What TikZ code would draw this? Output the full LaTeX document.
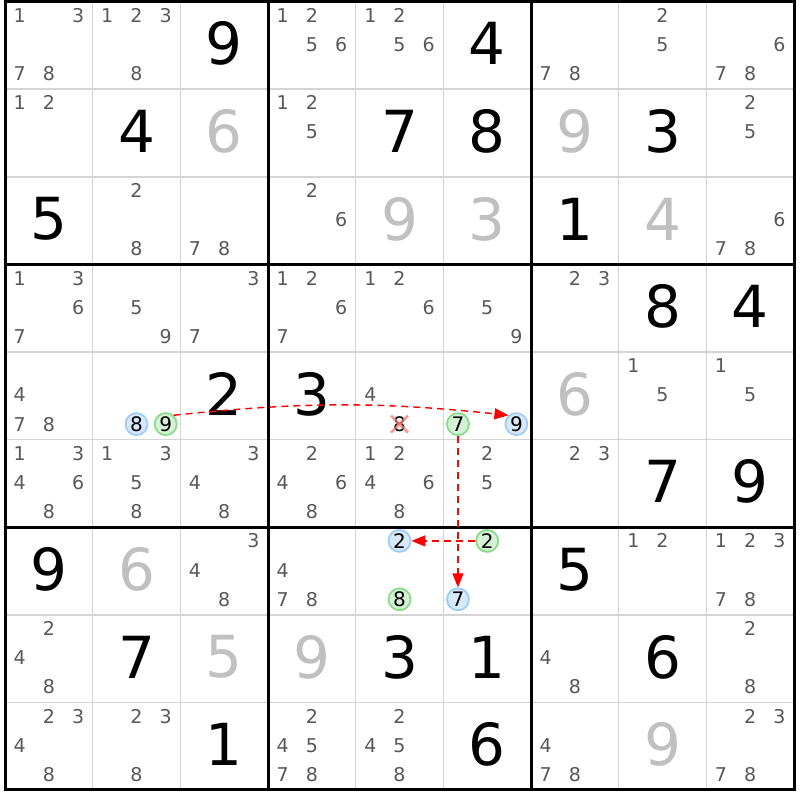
\documentclass[tikz,border=0pt]{standalone}
\usepackage{fontspec}
\setmainfont{DejaVu Sans}
\usetikzlibrary{arrows.meta}
\definecolor{candgray}{RGB}{88,88,88}
\definecolor{givengray}{RGB}{192,192,192}
\definecolor{thingray}{RGB}{212,212,212}
\definecolor{bluefill}{RGB}{214,232,250}
\definecolor{bluedraw}{RGB}{160,204,248}
\definecolor{greenfill}{RGB}{214,242,214}
\definecolor{greendraw}{RGB}{140,218,140}
\definecolor{crosscol}{RGB}{245,120,120}
\newcommand\sdkCW{87.67}
\newcommand\sdkCH{87.6}
\newcommand\sdkXO{5}
\newcommand\sdkYO{1.5}
\newcommand\sdkpos[3]{%
  \pgfmathsetmacro\px{\sdkXO+(#2-1)*\sdkCW+(2*mod(#3-1,3)+1)*\sdkCW/6}%
  \pgfmathsetmacro\py{\sdkYO+(#1-1)*\sdkCH+(2*floor((#3-1)/3)+1)*\sdkCH/6-0.8}}
\newcommand\cands[3]{\foreach \dd in {#3}{\sdkpos{#1}{#2}{\dd}\node[cand] (k#1#2\dd) at (\px,\py) {\dd};}}
\newcommand\ring[4]{\sdkpos{#1}{#2}{#3}\node[#4] (k#1#2#3) at (\px,\py) {#3};}
\newcommand\givenat[4]{\node[#4] (g#1#2) at ({\sdkXO+(#2-0.5)*\sdkCW},{\sdkYO+(#1-0.5)*\sdkCH-1.5}) {#3};}
\tikzset{
  cand/.style={font=\fontsize{19}{19}\selectfont, text=candgray, inner sep=0pt},
  bigblack/.style={font=\fontsize{58}{58}\selectfont, text=black, inner sep=0pt},
  biggray/.style={bigblack, text=givengray},
  ringbase/.style={circle, line width=1.8pt, minimum size=22pt, inner sep=0pt,
    font=\fontsize{20}{20}\selectfont, text=black},
  bluering/.style={ringbase, draw=bluedraw, fill=bluefill},
  greenring/.style={ringbase, draw=greendraw, fill=greenfill},
  crossed/.style={cand, text=black, font=\fontsize{20}{20}\selectfont},
  thinline/.style={thingray, line width=1.6pt},
  thickline/.style={black, line width=3pt},
  link/.style={red, line width=1.4pt, dash pattern=on 7pt off 5pt,
    -{Triangle[length=14pt,width=11pt]}},
  crossmark/.style={crosscol, opacity=0.75, line width=2.6pt}
}
\begin{document}
\begin{tikzpicture}[x=1pt,y=-1pt]
\useasboundingbox[fill=white] (0,0) rectangle (800,800);
% thin grid lines
\foreach \i in {1,2,4,5,7,8}{
  \draw[thinline] ({\sdkXO+\i*\sdkCW},\sdkYO) -- ({\sdkXO+\i*\sdkCW},{\sdkYO+9*\sdkCH});
  \draw[thinline] (\sdkXO,{\sdkYO+\i*\sdkCH}) -- ({\sdkXO+9*\sdkCW},{\sdkYO+\i*\sdkCH});
}
% thick lines
\foreach \i in {0,3,6,9}{
  \draw[thickline] ({\sdkXO+\i*\sdkCW},{\sdkYO-1.5}) -- ({\sdkXO+\i*\sdkCW},{\sdkYO+9*\sdkCH+1.5});
  \draw[thickline] ({\sdkXO-1.5},{\sdkYO+\i*\sdkCH}) -- ({\sdkXO+9*\sdkCW+1.5},{\sdkYO+\i*\sdkCH});
}
% row 1
\cands{1}{1}{1,3,7,8}
\cands{1}{2}{1,2,3,8}
\givenat{1}{3}{9}{bigblack}
\cands{1}{4}{1,2,5,6}
\cands{1}{5}{1,2,5,6}
\givenat{1}{6}{4}{bigblack}
\cands{1}{7}{7,8}
\cands{1}{8}{2,5}
\cands{1}{9}{6,7,8}
% row 2
\cands{2}{1}{1,2}
\givenat{2}{2}{4}{bigblack}
\givenat{2}{3}{6}{biggray}
\cands{2}{4}{1,2,5}
\givenat{2}{5}{7}{bigblack}
\givenat{2}{6}{8}{bigblack}
\givenat{2}{7}{9}{biggray}
\givenat{2}{8}{3}{bigblack}
\cands{2}{9}{2,5}
% row 3
\givenat{3}{1}{5}{bigblack}
\cands{3}{2}{2,8}
\cands{3}{3}{7,8}
\cands{3}{4}{2,6}
\givenat{3}{5}{9}{biggray}
\givenat{3}{6}{3}{biggray}
\givenat{3}{7}{1}{bigblack}
\givenat{3}{8}{4}{biggray}
\cands{3}{9}{6,7,8}
% row 4
\cands{4}{1}{1,3,6,7}
\cands{4}{2}{5,9}
\cands{4}{3}{3,7}
\cands{4}{4}{1,2,6,7}
\cands{4}{5}{1,2,6}
\cands{4}{6}{5,9}
\cands{4}{7}{2,3}
\givenat{4}{8}{8}{bigblack}
\givenat{4}{9}{4}{bigblack}
% row 5
\cands{5}{1}{4,7,8}
\ring{5}{2}{8}{bluering}
\ring{5}{2}{9}{greenring}
\givenat{5}{3}{2}{bigblack}
\givenat{5}{4}{3}{bigblack}
\cands{5}{5}{4}
\sdkpos{5}{5}{8}\node[crossed] (k558) at (\px,\py) {8};
\draw[crossmark] ([shift={(-8.5,-8.5)}]k558.center) -- ([shift={(8.5,8.5)}]k558.center);
\draw[crossmark] ([shift={(-8.5,8.5)}]k558.center) -- ([shift={(8.5,-8.5)}]k558.center);
\ring{5}{6}{7}{greenring}
\ring{5}{6}{9}{bluering}
\givenat{5}{7}{6}{biggray}
\cands{5}{8}{1,5}
\cands{5}{9}{1,5}
% row 6
\cands{6}{1}{1,3,4,6,8}
\cands{6}{2}{1,3,5,8}
\cands{6}{3}{3,4,8}
\cands{6}{4}{2,4,6,8}
\cands{6}{5}{1,2,4,6,8}
\cands{6}{6}{2,5}
\cands{6}{7}{2,3}
\givenat{6}{8}{7}{bigblack}
\givenat{6}{9}{9}{bigblack}
% row 7
\givenat{7}{1}{9}{bigblack}
\givenat{7}{2}{6}{biggray}
\cands{7}{3}{3,4,8}
\cands{7}{4}{4,7,8}
\ring{7}{5}{2}{bluering}
\ring{7}{5}{8}{greenring}
\ring{7}{6}{2}{greenring}
\ring{7}{6}{7}{bluering}
\givenat{7}{7}{5}{bigblack}
\cands{7}{8}{1,2}
\cands{7}{9}{1,2,3,7,8}
% row 8
\cands{8}{1}{2,4,8}
\givenat{8}{2}{7}{bigblack}
\givenat{8}{3}{5}{biggray}
\givenat{8}{4}{9}{biggray}
\givenat{8}{5}{3}{bigblack}
\givenat{8}{6}{1}{bigblack}
\cands{8}{7}{4,8}
\givenat{8}{8}{6}{bigblack}
\cands{8}{9}{2,8}
% row 9
\cands{9}{1}{2,3,4,8}
\cands{9}{2}{2,3,8}
\givenat{9}{3}{1}{bigblack}
\cands{9}{4}{2,4,5,7,8}
\cands{9}{5}{2,4,5,8}
\givenat{9}{6}{6}{bigblack}
\cands{9}{7}{4,7,8}
\givenat{9}{8}{9}{biggray}
\cands{9}{9}{2,3,7,8}
% links
\draw[link] (k529.48) to[bend left=6] (k569.132);
\draw[link] (k567) -- (k767);
\draw[link] (k762) -- (k752);
\end{tikzpicture}
\end{document}
